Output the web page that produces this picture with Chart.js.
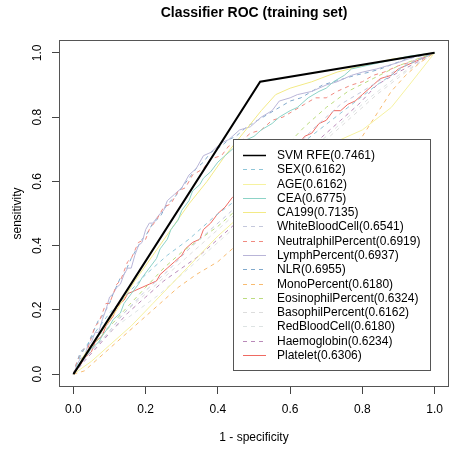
<!DOCTYPE html>
<html>
<head>
<meta charset="utf-8">
<script src="https://cdn.jsdelivr.net/npm/chart.js@4.4.1/dist/chart.umd.min.js"></script>
<style>
  html, body { margin: 0; padding: 0; background: #fff; }
  canvas { display: block; }
</style>
</head>
<body>
<canvas id="roc" width="455" height="449"></canvas>
<script>
// ROC curves, points as [1 - specificity, sensitivity]
const svmRfe = [[0, 0], [0.517, 0.91], [1, 1]];
const sex = [[0, 0], [0.02, 0.06], [0.06, 0.13], [0.1, 0.19], [0.15, 0.25], [0.2, 0.31], [0.26, 0.37], [0.32, 0.42], [0.39, 0.49], [0.46, 0.55], [0.53, 0.62], [0.6, 0.69], [0.68, 0.76], [0.76, 0.83], [0.84, 0.9], [0.92, 0.96], [1, 1]];
const age = [[0, 0], [0.05, 0.04], [0.1, 0.09], [0.16, 0.15], [0.22, 0.22], [0.28, 0.29], [0.34, 0.36], [0.4, 0.43], [0.47, 0.5], [0.54, 0.58], [0.6, 0.64], [0.67, 0.7], [0.74, 0.73], [0.8, 0.76], [0.88, 0.83], [0.93, 0.9], [1, 1]];
const cea = [[0, 0], [0.02, 0.04], [0.03, 0.05], [0.05, 0.08], [0.07, 0.1], [0.08, 0.12], [0.1, 0.15], [0.11, 0.17], [0.13, 0.19], [0.14, 0.22], [0.16, 0.25], [0.18, 0.28], [0.19, 0.3], [0.21, 0.33], [0.23, 0.36], [0.24, 0.39], [0.26, 0.42], [0.27, 0.45], [0.29, 0.48], [0.3, 0.51], [0.32, 0.54], [0.33, 0.57], [0.35, 0.59], [0.36, 0.61], [0.38, 0.63], [0.4, 0.66], [0.42, 0.68], [0.44, 0.7], [0.46, 0.71], [0.48, 0.73], [0.5, 0.74], [0.52, 0.76], [0.55, 0.78], [0.57, 0.8], [0.6, 0.82], [0.62, 0.83], [0.65, 0.86], [0.68, 0.88], [0.7, 0.89], [0.72, 0.91], [0.75, 0.93], [0.77, 0.95], [0.81, 0.96], [0.85, 0.97], [0.93, 0.99], [1, 1]];
const ca199 = [[0, 0], [0.03, 0.06], [0.07, 0.12], [0.12, 0.2], [0.17, 0.29], [0.22, 0.37], [0.27, 0.45], [0.32, 0.53], [0.37, 0.6], [0.42, 0.68], [0.47, 0.75], [0.52, 0.82], [0.56, 0.87], [0.6, 0.89], [0.66, 0.91], [0.73, 0.94], [0.8, 0.96], [0.88, 0.98], [1, 1]];
const whiteBloodCell = [[0, 0], [0.04, 0.06], [0.09, 0.12], [0.14, 0.19], [0.2, 0.26], [0.26, 0.32], [0.32, 0.39], [0.38, 0.45], [0.45, 0.52], [0.52, 0.6], [0.6, 0.69], [0.67, 0.77], [0.74, 0.84], [0.8, 0.88], [0.87, 0.93], [0.93, 0.97], [1, 1]];
const neutralphil = [[0, 0], [0.01, 0.04], [0.03, 0.08], [0.04, 0.08], [0.06, 0.15], [0.07, 0.16], [0.09, 0.22], [0.1, 0.22], [0.12, 0.28], [0.13, 0.29], [0.15, 0.35], [0.16, 0.36], [0.18, 0.41], [0.2, 0.42], [0.21, 0.45], [0.23, 0.48], [0.25, 0.52], [0.27, 0.53], [0.29, 0.57], [0.31, 0.58], [0.33, 0.62], [0.36, 0.64], [0.38, 0.67], [0.41, 0.68], [0.43, 0.71], [0.46, 0.72], [0.49, 0.75], [0.52, 0.76], [0.55, 0.79], [0.58, 0.8], [0.61, 0.82], [0.64, 0.84], [0.67, 0.86], [0.7, 0.86], [0.73, 0.88], [0.77, 0.9], [0.8, 0.91], [0.83, 0.93], [0.86, 0.94], [0.9, 0.96], [0.93, 0.97], [1, 1]];
const lymph = [[0, 0], [0.01, 0.03], [0.02, 0.05], [0.03, 0.05], [0.04, 0.09], [0.05, 0.1], [0.06, 0.13], [0.07, 0.13], [0.08, 0.17], [0.09, 0.2], [0.1, 0.24], [0.11, 0.25], [0.12, 0.27], [0.13, 0.28], [0.14, 0.31], [0.15, 0.33], [0.16, 0.33], [0.17, 0.37], [0.18, 0.4], [0.19, 0.41], [0.2, 0.45], [0.21, 0.47], [0.22, 0.47], [0.24, 0.5], [0.25, 0.51], [0.26, 0.54], [0.28, 0.56], [0.3, 0.58], [0.32, 0.62], [0.34, 0.64], [0.36, 0.68], [0.38, 0.69], [0.41, 0.72], [0.43, 0.73], [0.46, 0.76], [0.49, 0.77], [0.52, 0.8], [0.55, 0.82], [0.57, 0.85], [0.6, 0.86], [0.62, 0.87], [0.66, 0.88], [0.7, 0.9], [0.73, 0.91], [0.77, 0.93], [0.8, 0.94], [0.84, 0.95], [0.87, 0.96], [0.9, 0.97], [0.95, 0.99], [1, 1]];
const nlr = [[0, 0], [0.01, 0.04], [0.02, 0.07], [0.04, 0.09], [0.05, 0.12], [0.07, 0.17], [0.08, 0.18], [0.1, 0.22], [0.11, 0.25], [0.13, 0.3], [0.14, 0.31], [0.16, 0.36], [0.17, 0.38], [0.19, 0.42], [0.2, 0.43], [0.22, 0.47], [0.24, 0.49], [0.26, 0.53], [0.28, 0.55], [0.3, 0.58], [0.32, 0.61], [0.34, 0.64], [0.36, 0.66], [0.38, 0.69], [0.41, 0.71], [0.43, 0.73], [0.45, 0.74], [0.48, 0.77], [0.51, 0.79], [0.54, 0.81], [0.57, 0.83], [0.6, 0.85], [0.63, 0.86], [0.66, 0.88], [0.69, 0.9], [0.72, 0.91], [0.75, 0.92], [0.78, 0.93], [0.82, 0.94], [0.85, 0.95], [0.92, 0.98], [1, 1]];
const mono = [[0, 0], [0.03, 0.01], [0.06, 0.04], [0.1, 0.08], [0.14, 0.12], [0.19, 0.17], [0.24, 0.22], [0.29, 0.27], [0.34, 0.31], [0.4, 0.35], [0.46, 0.41], [0.53, 0.47], [0.6, 0.55], [0.67, 0.62], [0.74, 0.68], [0.8, 0.74], [0.84, 0.81], [0.88, 0.88], [0.92, 0.93], [0.96, 0.97], [1, 1]];
const eosinophil = [[0, 0], [0.03, 0.06], [0.07, 0.11], [0.11, 0.16], [0.15, 0.21], [0.2, 0.27], [0.25, 0.33], [0.3, 0.38], [0.35, 0.42], [0.4, 0.46], [0.46, 0.52], [0.52, 0.6], [0.58, 0.7], [0.64, 0.77], [0.7, 0.83], [0.76, 0.88], [0.83, 0.92], [0.9, 0.96], [1, 1]];
const basophil = [[0, 0], [0.04, 0.08], [0.08, 0.13], [0.13, 0.18], [0.19, 0.24], [0.25, 0.3], [0.31, 0.36], [0.38, 0.43], [0.45, 0.5], [0.52, 0.56], [0.6, 0.63], [0.68, 0.71], [0.76, 0.79], [0.84, 0.87], [0.92, 0.94], [1, 1]];
const redBloodCell = [[0, 0], [0.03, 0.05], [0.07, 0.1], [0.12, 0.15], [0.18, 0.2], [0.24, 0.25], [0.3, 0.31], [0.37, 0.38], [0.44, 0.45], [0.51, 0.53], [0.58, 0.61], [0.66, 0.7], [0.74, 0.78], [0.82, 0.86], [0.9, 0.93], [1, 1]];
const haemoglobin = [[0, 0], [0.03, 0.04], [0.07, 0.09], [0.11, 0.14], [0.15, 0.19], [0.2, 0.24], [0.25, 0.29], [0.3, 0.33], [0.35, 0.37], [0.4, 0.42], [0.45, 0.47], [0.5, 0.52], [0.56, 0.58], [0.62, 0.66], [0.68, 0.73], [0.74, 0.79], [0.79, 0.84], [0.84, 0.9], [0.9, 0.94], [0.95, 0.97], [1, 1]];
const platelet = [[0, 0], [0.02, 0.03], [0.03, 0.05], [0.05, 0.07], [0.06, 0.1], [0.08, 0.12], [0.09, 0.15], [0.11, 0.18], [0.12, 0.21], [0.14, 0.23], [0.15, 0.25], [0.17, 0.26], [0.19, 0.27], [0.21, 0.28], [0.23, 0.29], [0.24, 0.31], [0.26, 0.33], [0.28, 0.35], [0.3, 0.37], [0.31, 0.39], [0.33, 0.41], [0.35, 0.42], [0.36, 0.45], [0.38, 0.47], [0.4, 0.5], [0.42, 0.52], [0.44, 0.55], [0.47, 0.57], [0.49, 0.6], [0.52, 0.61], [0.55, 0.64], [0.58, 0.66], [0.6, 0.69], [0.62, 0.71], [0.64, 0.74], [0.66, 0.75], [0.68, 0.78], [0.7, 0.79], [0.72, 0.82], [0.74, 0.82], [0.76, 0.84], [0.78, 0.85], [0.8, 0.87], [0.83, 0.9], [0.85, 0.92], [0.88, 0.93], [0.9, 0.95], [0.95, 0.975], [1, 1]];

const seriesNames = ["SVM RFE", "SEX", "AGE", "CEA", "CA199", "WhiteBloodCell", "NeutralphilPercent",
  "LymphPercent", "NLR", "MonoPercent", "EosinophilPercent", "BasophilPercent", "RedBloodCell",
  "Haemoglobin", "Platelet"];
const aucValues = ["0.7461", "0.6162", "0.6162", "0.6775", "0.7135", "0.6541", "0.6919", "0.6937",
  "0.6955", "0.6180", "0.6324", "0.6162", "0.6180", "0.6234", "0.6306"];
const seriesPoints = [svmRfe, sex, age, cea, ca199, whiteBloodCell, neutralphil, lymph, nlr, mono,
  eosinophil, basophil, redBloodCell, haemoglobin, platelet];

const xTicks = [0, 0.2, 0.4, 0.6, 0.8, 1.0];
const yTicks = [0, 0.2, 0.4, 0.6, 0.8, 1.0];

const colors = ["#000000", "#8fc6d8", "#f6f2a0", "#8dd3c7", "#f3ea86", "#c4c8dc", "#f08a80",
  "#b9b5d8", "#80a9cc", "#f8bb70", "#bcdc80", "#dddddd", "#dde3e3", "#b98ab9", "#ef6a62"];
const dashed = [false, true, false, false, false, true, true, false, true, true, true, true, true, true, false];

const FONT = "'Liberation Sans', Arial, Helvetica, sans-serif";

const datasets = seriesPoints.map((pts, i) => ({
  label: seriesNames[i] + "(" + aucValues[i] + ")",
  data: pts.map(p => ({ x: p[0], y: p[1] })),
  borderColor: colors[i],
  borderWidth: i === 0 ? 2 : 1,
  borderDash: dashed[i] ? [4, 4] : [],
  showLine: true,
  fill: false,
  pointRadius: 0,
  tension: 0,
}));

// R-style box, rotated y labels, title and legend
const rPlot = {
  id: "rPlot",
  afterDatasetsDraw(chart) {
    const { ctx, chartArea: a } = chart;
    ctx.save();
    ctx.strokeStyle = "#555";
    ctx.lineWidth = 1;
    ctx.strokeRect(Math.round(a.left) + 0.5, Math.round(a.top) + 0.5,
      Math.round(a.right - a.left) - 1, Math.round(a.bottom - a.top) - 1);

    // legend
    const lx = 233, ly = 139, lw = 197, lh = 231;
    ctx.fillStyle = "#fff";
    ctx.fillRect(lx, ly, lw, lh);
    ctx.strokeStyle = "#555";
    ctx.strokeRect(lx + 0.5, ly + 0.5, lw, lh);
    ctx.font = "12px " + FONT;
    ctx.textBaseline = "middle";
    ctx.textAlign = "left";
    chart.data.datasets.forEach((ds, i) => {
      const y = Math.round(155 + i * 14.29) + 0.5;
      ctx.beginPath();
      ctx.strokeStyle = colors[i];
      ctx.lineWidth = i === 0 ? 1.5 : 1;
      ctx.setLineDash(dashed[i] ? [4, 4] : []);
      ctx.moveTo(243, y);
      ctx.lineTo(266, y);
      ctx.stroke();
      ctx.setLineDash([]);
      ctx.fillStyle = "#000";
      ctx.fillText(ds.label, 277, y + 0.5);
    });
    ctx.restore();
  },
  afterDraw(chart) {
    const { ctx, chartArea: a } = chart;
    const ys = chart.scales.y;
    ctx.save();
    ctx.fillStyle = "#000";
    ctx.font = "bold 14px " + FONT;
    ctx.textAlign = "center";
    ctx.textBaseline = "middle";
    ctx.fillText("Classifier ROC (training set)", (a.left + a.right) / 2, 13);

    ctx.font = "12px " + FONT;
    yTicks.forEach(v => {
      const py = ys.getPixelForValue(v);
      ctx.save();
      ctx.translate(38, py);
      ctx.rotate(-Math.PI / 2);
      ctx.fillText(v.toFixed(1), 0, 0);
      ctx.restore();
    });
    ctx.restore();
  },
};

new Chart(document.getElementById("roc"), {
  type: "scatter",
  data: { datasets: datasets },
  options: {
    responsive: false,
    animation: false,
    layout: { padding: { top: 40, right: 6, bottom: 0, left: 0 } },
    plugins: { legend: { display: false }, tooltip: { enabled: false } },
    scales: {
      x: {
        type: "linear",
        min: -0.04,
        max: 1.04,
        afterBuildTicks: s => { s.ticks = xTicks.map(v => ({ value: v })); },
        afterFit: s => { s.height = 62; },
        grid: { drawOnChartArea: false, drawTicks: true, tickLength: 7, color: "#444" },
        border: { display: false },
        ticks: {
          color: "#000",
          padding: 8,
          maxRotation: 0,
          font: { family: FONT, size: 12 },
          callback: v => Number(v).toFixed(1),
        },
        title: {
          display: true,
          text: "1 - specificity",
          color: "#000",
          font: { family: FONT, size: 12 },
          padding: { top: 0, bottom: 4 },
        },
      },
      y: {
        type: "linear",
        min: -0.04,
        max: 1.04,
        afterBuildTicks: s => { s.ticks = yTicks.map(v => ({ value: v })); },
        afterFit: s => { s.width = 59; },
        grid: { drawOnChartArea: false, drawTicks: true, tickLength: 7, color: "#444" },
        border: { display: false },
        ticks: { callback: () => "", padding: 0 },
        title: {
          display: true,
          text: "sensitivity",
          color: "#000",
          font: { family: FONT, size: 12 },
          padding: { top: 10, bottom: 0 },
        },
      },
    },
  },
  plugins: [rPlot],
});
</script>
</body>
</html>
